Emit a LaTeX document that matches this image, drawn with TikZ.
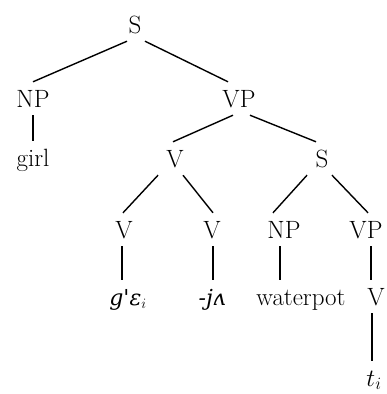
\documentclass[tikz,border=0pt]{standalone}
\usepackage{fontspec}
\newfontfamily\ipafont{DejaVu Serif}

\tikzset{
    cat/.style={anchor=base, inner xsep=1pt, inner ysep=8pt,
        text height=17pt, text depth=0pt, font=\fontsize{25}{30}\selectfont},
    branch/.style={line width=1.4pt}
}

\begin{document}
\begin{tikzpicture}[x=1pt, y=-1pt]
        \useasboundingbox (0,0) rectangle (386,394);

        % Categories, top to bottom
        \node[cat] (s0) at (135, 33) {S};
        \node[cat] (np1) at (33, 107) {NP};
        \node[cat] (vp1) at (239, 107) {VP};
        \node[cat] (girl) at (33, 166) {girl};
        \node[cat] (v1) at (175, 167) {V};
        \node[cat] (s1) at (322, 167) {S};
        \node[cat] (v2) at (124, 238) {V};
        \node[cat] (v3) at (212, 238) {V};
        \node[cat] (np2) at (284, 238) {NP};
        \node[cat] (vp2) at (366, 238) {VP};

        % Words
        \node[cat] (verb) at (128, 305) {\fontsize{22}{26}\selectfont{\ipafont\itshape g'ɛ}$_i$};
        \node[cat] (suffix) at (212, 305) {\fontsize{22}{26}\selectfont{\ipafont\itshape -jʌ}};
        \node[cat] (pot) at (301, 305) {waterpot};
        \node[cat] (v4) at (376, 305) {V};
        \node[cat] (trace) at (374, 386) {$t_i$};

        % Branches
        \draw[branch] ([xshift=-8pt]s0.south) -- (np1.north);
        \draw[branch] ([xshift=10pt]s0.south) -- ([xshift=-11pt]vp1.north);
        \draw[branch] (np1.south) -- (girl.north);
        \draw[branch] ([xshift=-6pt]vp1.south) -- ([xshift=-2pt]v1.north);
        \draw[branch] ([xshift=11pt]vp1.south) -- ([xshift=-6pt]s1.north);
        \draw[branch] ([xshift=-17pt]v1.south) -- ([xshift=-1pt]v2.north);
        \draw[branch] ([xshift=8pt]v1.south) -- ([xshift=1pt]v3.north);
        \draw[branch] ([xshift=-15pt]s1.south) -- ([xshift=-11pt]np2.north);
        \draw[branch] ([xshift=10pt]s1.south) -- ([xshift=2pt]vp2.north);

        % Unary branches
        \draw[branch] ([xshift=-2pt]v2.south) -- ([xshift=-2pt]v2.south |- verb.north);
        \draw[branch] ([xshift=1pt]v3.south) -- ([xshift=1pt]v3.south |- suffix.north);
        \draw[branch] ([xshift=-4pt]np2.south) -- ([xshift=-4pt]np2.south |- pot.north);
        \draw[branch] ([xshift=5pt]vp2.south) -- ([xshift=5pt]vp2.south |- v4.north);
        \draw[branch] ([xshift=-4pt]v4.south) -- ([xshift=-4pt]v4.south |- trace.north);
    \end{tikzpicture}
\end{document}
